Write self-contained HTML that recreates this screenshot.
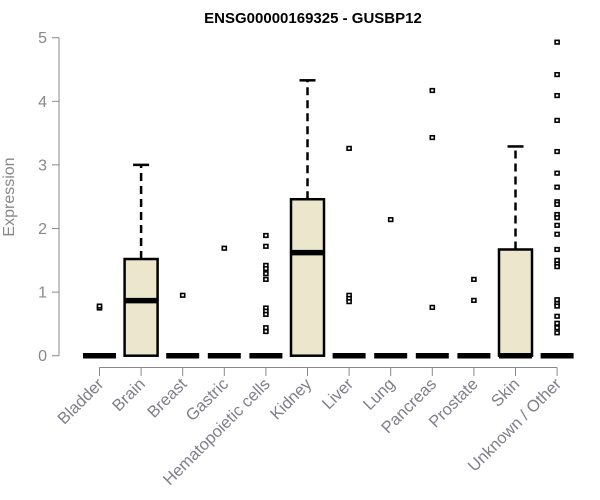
<!DOCTYPE html>
<html><head><meta charset="utf-8"><style>
html,body{margin:0;padding:0;background:#fff;}
svg{display:block;font-family:"Liberation Sans",Arial,sans-serif;}
</style></head><body>
<svg id="chart" width="600" height="500" viewBox="0 0 600 500">
<text x="313" y="23" text-anchor="middle" font-size="15" font-weight="bold">ENSG00000169325 - GUSBP12</text>
<text transform="translate(14,197) rotate(-90)" text-anchor="middle" font-size="16" fill="#888">Expression</text>
<g id="yaxis"></g>
<g id="xaxis"></g>
<g id="plot"></g>
</svg>
<script>
const categories = ["Bladder","Brain","Breast","Gastric","Hematopoietic cells","Kidney","Liver","Lung","Pancreas","Prostate","Skin","Unknown / Other"];
const q1 = [0,0,0,0,0,0,0,0,0,0,0,0];
const medians = [0,0.865,0,0,0,1.62,0,0,0,0,0,0];
const q3 = [0,1.52,0,0,0,2.46,0,0,0,0,1.67,0];
const whiskerHigh = [0,3.0,0,0,0,4.33,0,0,0,0,3.29,0];
const outliers = [
 [0.75,0.78],
 [],
 [0.95],
 [1.69],
 [1.89,1.72,1.42,1.37,1.29,1.2,0.75,0.7,0.65,0.44,0.38],
 [],
 [3.26,0.95,0.9,0.85],
 [2.14],
 [4.17,3.43,0.76],
 [1.2,0.87],
 [],
 [4.93,4.42,4.09,3.70,3.21,2.87,2.65,2.42,2.38,2.22,2.17,2.05,1.91,1.67,1.5,1.44,1.40,0.88,0.82,0.78,0.62,0.51,0.44,0.36]
];
const yTicks = [0,1,2,3,4,5];

const NS="http://www.w3.org/2000/svg";
const y = v => 355.7 - v*63.6;
const x = i => 99.5 + i*41.6;
function mk(tag, attrs, parent){const e=document.createElementNS(NS,tag);for(const k in attrs)e.setAttribute(k,attrs[k]);parent.appendChild(e);return e;}
const yax=document.getElementById('yaxis'), xax=document.getElementById('xaxis'), plot=document.getElementById('plot');

let l=mk('line',{x1:59,x2:59,y1:y(yTicks[0]),y2:y(yTicks[yTicks.length-1]),stroke:'#888','stroke-width':1},yax);


yTicks.forEach(t=>{
  const tk=mk('line',{x1:52,x2:59,y1:y(t),y2:y(t),stroke:'#888'},yax);
  
  
  const tx=mk('text',{x:47,y:y(t)+5.5,'text-anchor':'end','font-size':16,fill:'#888'},yax);
  tx.textContent=t;
  
  
});

l=mk('line',{x1:x(0),x2:x(categories.length-1),y1:367.5,y2:367.5,stroke:'#888'},xax);


categories.forEach((c,i)=>{
  const tk=mk('line',{x1:x(i),x2:x(i),y1:367.5,y2:376,stroke:'#888'},xax);
  
  
  const tx=mk('text',{transform:`translate(${x(i)+5},${385}) rotate(-45)`,'text-anchor':'end','font-size':16.5,fill:'#7f7f8a'},xax);
  tx.textContent=c;
  
  
});

const hw=16.5;
categories.forEach((c,i)=>{
  const g=mk('g',{},plot);
  
  
  const cx=x(i);
  if(whiskerHigh[i]>q3[i]){
    mk('line',{x1:cx,x2:cx,y1:y(q3[i]),y2:y(whiskerHigh[i]),stroke:'#000','stroke-width':2.5,'stroke-dasharray':'8,5'},g);
    mk('line',{x1:cx-8,x2:cx+8,y1:y(whiskerHigh[i]),y2:y(whiskerHigh[i]),stroke:'#000','stroke-width':2.5},g);
  }
  if(q3[i]>q1[i]){
    mk('rect',{x:cx-hw,y:y(q3[i]),width:2*hw,height:y(q1[i])-y(q3[i]),fill:'#ece7cc',stroke:'#000','stroke-width':2.5},g);
  }
  mk('line',{x1:cx-hw,x2:cx+hw,y1:y(medians[i]),y2:y(medians[i]),stroke:'#000','stroke-width':5.5},g);
  outliers[i].forEach(v=>{
    const p=mk('rect',{x:cx-2,y:y(v)-1.8,width:4,height:3.6,fill:'#fff',stroke:'#000','stroke-width':1.6},g);
    
    
  });
});
</script>
</body></html>
